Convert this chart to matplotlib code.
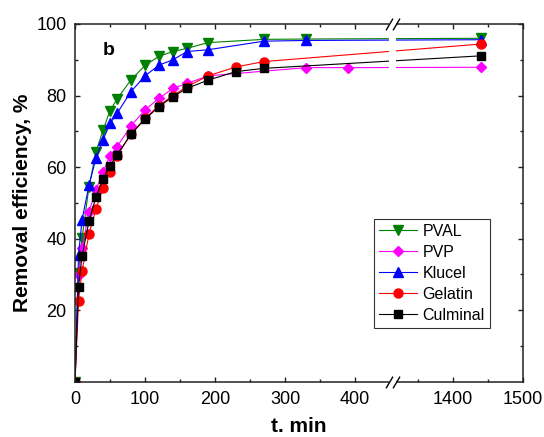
import numpy as np
import matplotlib.pyplot as plt
from matplotlib.patches import Rectangle

plt.rcParams['font.family'] = ['Liberation Sans', 'DejaVu Sans']

# sampling times, min
t_fast = [0, 5, 10, 20, 30, 40, 50, 60, 80, 100, 120, 140, 160, 190, 270, 330, 1440]
t_pvp = [0, 5, 10, 20, 30, 40, 50, 60, 80, 100, 120, 140, 160, 190, 330, 390, 1440]
t_slow = [0, 5, 10, 20, 30, 40, 50, 60, 80, 100, 120, 140, 160, 190, 230, 270, 1440]

# removal efficiency, %
pval = [0, 30.5, 40.2, 54.5, 64.3, 70.3, 75.8, 79.0, 84.4, 88.4, 91.0, 92.3, 93.2, 94.8, 95.7, 95.8, 96.0]
klucel = [0, 35.4, 45.2, 55.0, 62.5, 67.6, 72.2, 75.0, 81.1, 85.5, 88.5, 90.0, 92.3, 92.8, 95.2, 95.4, 95.6]
pvp = [0, 29.8, 37.3, 47.5, 53.6, 58.7, 63.1, 65.7, 71.5, 76.0, 79.2, 82.0, 83.4, 85.5, 87.8, 87.8, 87.9]
gelatin = [0, 22.6, 30.9, 41.3, 48.3, 54.2, 58.7, 63.1, 69.3, 73.6, 77.2, 80.0, 82.5, 85.5, 88.0, 89.5, 94.4]
culminal = [0, 26.6, 35.1, 44.9, 51.7, 56.6, 60.4, 63.4, 69.2, 73.4, 76.9, 79.7, 82.0, 84.3, 86.7, 87.6, 91.1]

# broken time axis: 455 min jumps straight to 1315 min
cut_lo, cut_hi = 455, 1315


def fwd(t):
    t = np.asarray(t, dtype=float)
    return np.where(t <= cut_lo, t, np.where(t >= cut_hi, t - (cut_hi - cut_lo), cut_lo))


def inv(u):
    u = np.asarray(u, dtype=float)
    return np.where(u <= cut_lo, u, u + (cut_hi - cut_lo))


fig = plt.figure(figsize=(5.44, 4.37), dpi=100)
ax = fig.add_axes([0.1379, 0.1265, 0.8235, 0.8186])
ax.set_xscale('function', functions=(fwd, inv))

style = dict(lw=0.8, ms=6.5)
ax.plot(t_fast, pval, color='#008000', marker='v', label='PVAL', **style)
ax.plot(t_pvp, pvp, color='#ff00ff', marker='D', label='PVP', lw=0.8, ms=5.5)
ax.plot(t_fast, klucel, color='#0000ff', marker='^', label='Klucel', **style)
ax.plot(t_slow, gelatin, color='#ff0000', marker='o', label='Gelatin', **style)
ax.plot(t_slow, culminal, color='black', marker='s', label='Culminal', lw=0.8, ms=5.8)

ax.set_xlim(0, 1500)
ax.set_ylim(0, 100)
ax.set_xticks([0, 100, 200, 300, 400, 1400, 1500])
ax.set_xticks([50, 150, 250, 350, 1350, 1450], minor=True)
ax.set_xticklabels(['0', '100', '200', '300', '400', '1400', '1500'])
ax.set_yticks([20, 40, 60, 80, 100])
ax.set_yticks([10, 30, 50, 70, 90], minor=True)

ax.tick_params(which='both', direction='in', top=True, right=True, width=1.0,
               color='#222222', labelsize=13)
ax.tick_params(which='major', length=3.8)
ax.tick_params(which='minor', length=2.3)
ax.tick_params(axis='y', pad=6)
ax.tick_params(axis='x', pad=7)
for sp in ax.spines.values():
    sp.set_linewidth(1.1)
    sp.set_color('#222222')

ax.set_xlabel('t. min', fontsize=15, fontweight='bold', labelpad=6)
ax.set_ylabel('Removal efficiency, %', fontsize=15, fontweight='bold', labelpad=3)

ax.text(0.0625, 0.913, 'b', transform=ax.transAxes, fontsize=14,
        fontweight='bold', va='baseline', ha='left')

# axis break: white band through lines and spines, then the // marks
x0, x1 = 0.700, 0.717
ax.add_patch(Rectangle((x0, -0.01), x1 - x0, 1.02, transform=ax.transAxes,
                       facecolor='white', edgecolor='none', zorder=3, clip_on=False))
ax.plot([x0, x1, x0, x1], [0, 0, 1, 1], transform=ax.transAxes, linestyle='none',
        marker=[(-1, -1.7), (1, 1.7)], markersize=8.5, markeredgewidth=1.0,
        color='black', zorder=4, clip_on=False)

leg = ax.legend(loc='upper right', bbox_to_anchor=(0.9254, 0.4549), fontsize=11.5,
                frameon=True, fancybox=False, edgecolor='black', handlelength=2.4,
                handletextpad=0.35, borderpad=0.3, labelspacing=0.38,
                borderaxespad=0)
leg.get_frame().set_linewidth(0.8)

fig.savefig('out.png', dpi=100)
